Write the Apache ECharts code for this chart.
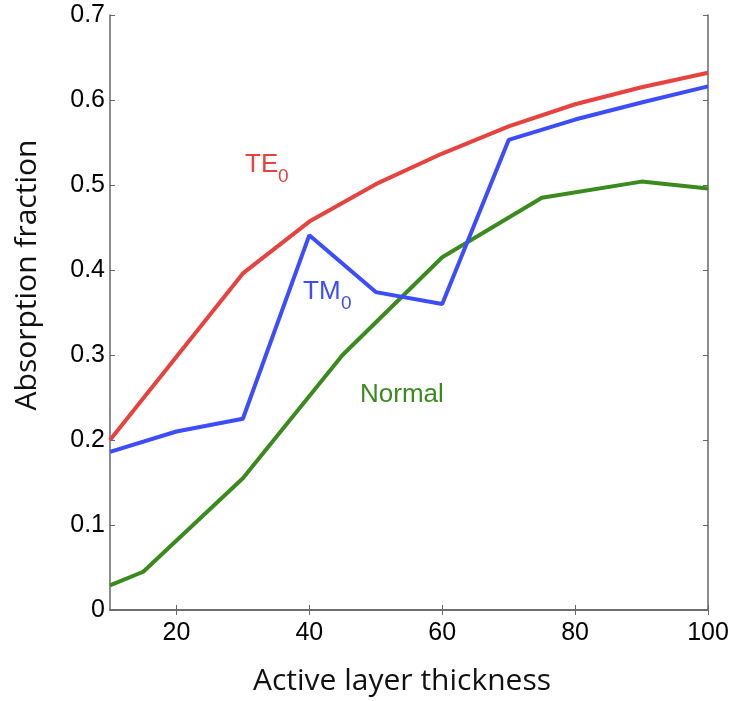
<!DOCTYPE html>
<html>
<head>
<meta charset="utf-8">
<script src="https://cdn.jsdelivr.net/npm/echarts@6/dist/echarts.min.js"></script>
<style>html,body{margin:0;padding:0;background:#fff}#c{width:732px;height:701px}</style>
</head>
<body>
<div id="c"></div>
<script>
var xTicks = [20, 40, 60, 80, 100];
var teX = [10, 20, 30, 40, 50, 60, 70, 80, 90, 100];
var teY = [0.200, 0.298, 0.396, 0.457, 0.501, 0.537, 0.569, 0.595, 0.615, 0.632];
var tmX = [10, 20, 30, 40, 50, 60, 70, 80, 90, 100];
var tmY = [0.186, 0.210, 0.225, 0.441, 0.374, 0.360, 0.553, 0.577, 0.597, 0.616];
var nX = [10, 15, 30, 45, 60, 75, 90, 100];
var nY = [0.029, 0.045, 0.155, 0.300, 0.415, 0.485, 0.504, 0.496];

function pairs(xs, ys){ return xs.map(function(x,i){ return [x, ys[i]]; }); }

var axisLine = {show:true, lineStyle:{color:'#666', width:1.5}};
var chart = echarts.init(document.getElementById('c'));
chart.setOption({
  animation:false,
  grid:{left:110, right:24, top:15, bottom:89},
  xAxis:[{
    type:'value', min:10, max:100, position:'bottom',
    axisLine:axisLine,
    axisTick:{show:true, inside:true, length:5, customValues:xTicks, lineStyle:{color:'#666'}},
    axisLabel:{customValues:xTicks, color:'#000', fontSize:25, fontFamily:'Liberation Sans', margin:11},
    splitLine:{show:false},
    name:'Active layer thickness', nameLocation:'middle', nameGap:56,
    nameTextStyle:{fontFamily:'Open Sans', fontSize:30, color:'#111', padding:[0,14,0,0]}
  },{
    type:'value', min:10, max:100, position:'top',
    axisLine:axisLine,
    axisTick:{show:true, inside:true, length:5, customValues:xTicks, lineStyle:{color:'#666'}},
    axisLabel:{show:false}, splitLine:{show:false}
  }],
  yAxis:[{
    type:'value', min:0, max:0.7, interval:0.1, position:'left',
    axisLine:axisLine,
    axisTick:{show:true, inside:true, length:5, lineStyle:{color:'#666'}},
    axisLabel:{color:'#000', fontSize:25, fontFamily:'Liberation Sans', margin:5,
      formatter:function(v){ return v===0 ? '0' : v.toFixed(1); }},
    splitLine:{show:false}
  },{
    type:'value', min:0, max:0.7, interval:0.1, position:'right',
    axisLine:axisLine,
    axisTick:{show:true, inside:true, length:5, lineStyle:{color:'#666'}},
    axisLabel:{show:false}, splitLine:{show:false}
  }],
  graphic:[
    {type:'text', x:27, y:275, rotation:Math.PI/2,
     style:{text:'Absorption fraction', fontFamily:'Open Sans', fontSize:30, fill:'#111', align:'center', verticalAlign:'middle'}},
    {type:'text', x:245, y:152, style:{text:'TE', fontFamily:'Liberation Sans', fontSize:26, fill:'#e8423f'}},
    {type:'text', x:278, y:167, style:{text:'0', fontFamily:'Liberation Sans', fontSize:19, fill:'#e8423f'}},
    {type:'text', x:303, y:279, style:{text:'TM', fontFamily:'Liberation Sans', fontSize:26, fill:'#3c4cff'}},
    {type:'text', x:341, y:294, style:{text:'0', fontFamily:'Liberation Sans', fontSize:19, fill:'#3c4cff'}},
    {type:'text', x:360, y:382, style:{text:'Normal', fontFamily:'Liberation Sans', fontSize:26, fill:'#3a8a1e'}}
  ],
  series:[
    {type:'line', name:'TE0', data:pairs(teX, teY), showSymbol:false, lineStyle:{color:'#e8423f', width:4}, z:3},
    {type:'line', name:'TM0', data:pairs(tmX, tmY), showSymbol:false, lineStyle:{color:'#3c4cff', width:4}, z:4},
    {type:'line', name:'Normal', data:pairs(nX, nY), showSymbol:false, lineStyle:{color:'#3a8a1e', width:4}, z:2}
  ]
});
</script>
</body>
</html>
